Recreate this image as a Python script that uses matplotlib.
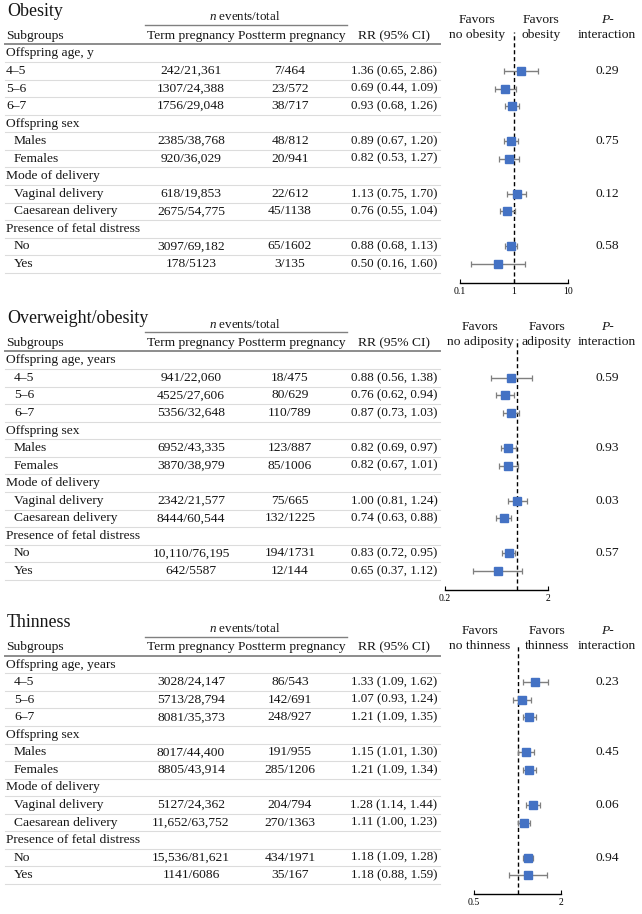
import matplotlib
matplotlib.use("Agg")
import matplotlib.pyplot as plt
from matplotlib.ticker import NullLocator

plt.rcParams['font.family'] = ['Liberation Serif', 'DejaVu Serif']
plt.rcParams['mathtext.fontset'] = 'custom'
plt.rcParams['mathtext.rm'] = 'Liberation Serif'
plt.rcParams['mathtext.it'] = 'Liberation Serif:italic'

# ---- data ----
titles = ["Obesity", "Overweight/obesity", "Thinness"]
age_headers = ["Offspring age, y", "Offspring age, years", "Offspring age, years"]
group_names = ["Offspring sex", "Mode of delivery", "Presence of fetal distress"]
item_labels = ["4\u20135", "5\u20136", "6\u20137", "Males", "Females",
               "Vaginal delivery", "Caesarean delivery", "No", "Yes"]
favors_left = ["no obesity", "no adiposity", "no thinness"]
favors_right = ["obesity", "adiposity", "thinness"]

obesity_term = ["242/21,361", "1307/24,388", "1756/29,048", "2385/38,768", "920/36,029",
                "618/19,853", "2675/54,775", "3097/69,182", "178/5123"]
obesity_post = ["7/464", "23/572", "38/717", "48/812", "20/941",
                "22/612", "45/1138", "65/1602", "3/135"]
obesity_rr = [1.36, 0.69, 0.93, 0.89, 0.82, 1.13, 0.76, 0.88, 0.50]
obesity_lo = [0.65, 0.44, 0.68, 0.67, 0.53, 0.75, 0.55, 0.68, 0.16]
obesity_hi = [2.86, 1.09, 1.26, 1.20, 1.27, 1.70, 1.04, 1.13, 1.60]
obesity_p = ["0.29", "0.75", "0.12", "0.58"]

overweight_term = ["941/22,060", "4525/27,606", "5356/32,648", "6952/43,335", "3870/38,979",
                   "2342/21,577", "8444/60,544", "10,110/76,195", "642/5587"]
overweight_post = ["18/475", "80/629", "110/789", "123/887", "85/1006",
                   "75/665", "132/1225", "194/1731", "12/144"]
overweight_rr = [0.88, 0.76, 0.87, 0.82, 0.82, 1.00, 0.74, 0.83, 0.65]
overweight_lo = [0.56, 0.62, 0.73, 0.69, 0.67, 0.81, 0.63, 0.72, 0.37]
overweight_hi = [1.38, 0.94, 1.03, 0.97, 1.01, 1.24, 0.88, 0.95, 1.12]
overweight_p = ["0.59", "0.93", "0.03", "0.57"]

thin_term = ["3028/24,147", "5713/28,794", "8081/35,373", "8017/44,400", "8805/43,914",
             "5127/24,362", "11,652/63,752", "15,536/81,621", "1141/6086"]
thin_post = ["86/543", "142/691", "248/927", "191/955", "285/1206",
             "204/794", "270/1363", "434/1971", "35/167"]
thin_rr = [1.33, 1.07, 1.21, 1.15, 1.21, 1.28, 1.11, 1.18, 1.18]
thin_lo = [1.09, 0.93, 1.09, 1.01, 1.09, 1.14, 1.00, 1.09, 0.88]
thin_hi = [1.62, 1.24, 1.35, 1.30, 1.34, 1.44, 1.23, 1.28, 1.59]
thin_p = ["0.23", "0.45", "0.06", "0.94"]

terms = [obesity_term, overweight_term, thin_term]
posts = [obesity_post, overweight_post, thin_post]
rrs = [obesity_rr, overweight_rr, thin_rr]
los = [obesity_lo, overweight_lo, thin_lo]
his = [obesity_hi, overweight_hi, thin_hi]
pvals = [obesity_p, overweight_p, thin_p]

xticks = [[0.1, 1, 10], [0.2, 2], [0.5, 2]]
xtick_labels = [["0.1", "1", "10"], ["0.2", "2"], ["0.5", "2"]]

# ---- layout (pixels) ----
W, H = 642, 914
row0 = [53.4, 360.4, 664.6]
pitch = 17.55
axis_gap = 19.0
forest_x = [(460, 567.7), (445, 548.3), (474, 561)]
fav_lx = [477, 480.5, 480]
fav_rx = [541, 547, 547]
p_x = 607
fs = 9.7      # labels
fs_rr = 9.4   # RR column is a touch smaller
tc = "#151515"
blue = "#4472C4"

fig = plt.figure(figsize=(W / 100, H / 100), dpi=100)
bg = fig.add_axes([0, 0, 1, 1])
bg.set_xlim(0, W)
bg.set_ylim(H, 0)
bg.axis("off")

# row index of each item / group header inside a panel
item_rows = [1, 2, 3, 5, 6, 8, 9, 11, 12]
group_rows = [0, 4, 7, 10]

for k in range(3):
    r0 = row0[k]
    ry = lambda i: r0 + i * pitch

    bg.text(7, r0 - 42, titles[k], fontsize=12.9, va="center", ha="left", color=tc)
    bg.text(245, r0 - 36.4, "$\\it{n}$ events/total", fontsize=9.4, va="center",
            ha="center", color=tc)
    bg.plot([145, 347], [r0 - 28, r0 - 28], color="#808080", lw=1)

    hy = r0 - 17.4
    bg.text(6, hy, "Subgroups", fontsize=fs, va="center", color=tc)
    bg.text(191, hy, "Term pregnancy", fontsize=fs, va="center", ha="center", color=tc)
    bg.text(292, hy, "Postterm pregnancy", fontsize=fs, va="center", ha="center", color=tc)
    bg.text(394, hy, "RR (95% CI)", fontsize=fs, va="center", ha="center", color=tc)
    bg.plot([5, 440], [r0 - 9, r0 - 9], color="#8c8c8c", lw=1.4)

    # favors / p headers
    bg.text(fav_lx[k], r0 - 33.5, "Favors", fontsize=fs, va="center", ha="center", color=tc)
    bg.text(fav_lx[k], r0 - 18.3, favors_left[k], fontsize=fs, va="center", ha="center", color=tc)
    bg.text(fav_rx[k], r0 - 33.5, "Favors", fontsize=fs, va="center", ha="center", color=tc)
    bg.text(fav_rx[k], r0 - 18.3, favors_right[k], fontsize=fs, va="center", ha="center", color=tc)
    bg.text(p_x, r0 - 33.5, "P-", fontsize=fs, va="center", ha="center",
            fontstyle="italic", color=tc)
    bg.text(p_x, r0 - 18.3, "interaction", fontsize=fs, va="center", ha="center", color=tc)

    # group headers
    heads = [age_headers[k]] + group_names
    for g, gr in enumerate(group_rows):
        bg.text(6, ry(gr), heads[g], fontsize=fs, va="center", color=tc)

    # items
    for j, ir in enumerate(item_rows):
        indent = 6 if (k == 0 and j < 3) else 14
        bg.text(indent, ry(ir), item_labels[j], fontsize=fs, va="center", color=tc)
        bg.text(191, ry(ir), terms[k][j], fontsize=fs, va="center", ha="center", color=tc)
        bg.text(290, ry(ir), posts[k][j], fontsize=fs, va="center", ha="center", color=tc)
        txt = "%.2f (%.2f, %.2f)" % (rrs[k][j], los[k][j], his[k][j])
        bg.text(394, ry(ir), txt, fontsize=fs_rr, va="center", ha="center", color=tc)

    for g in range(4):
        bg.text(p_x, ry(item_rows[[0, 3, 5, 7][g]]), pvals[k][g], fontsize=fs,
                va="center", ha="center", color=tc)

    # thin row separators
    for i in range(13):
        y = ry(i) + pitch / 2
        bg.plot([5, 440], [y, y], color="#dcdcdc", lw=0.8)

    # forest plot
    x0, x1 = forest_x[k]
    dash_top = r0 - 21
    axis_y = ry(12) + axis_gap
    ax = fig.add_axes([x0 / W, 1 - axis_y / H, (x1 - x0) / W, (axis_y - dash_top) / H])
    ax.set_xscale("log")
    ax.set_xlim(xticks[k][0], xticks[k][-1])
    ax.set_ylim(axis_y, dash_top)
    ax.patch.set_alpha(0)
    for s in ["top", "left", "right"]:
        ax.spines[s].set_visible(False)
    ax.spines["bottom"].set_linewidth(1)
    ax.set_yticks([])
    ax.set_xticks(xticks[k])
    ax.set_xticklabels(xtick_labels[k])
    ax.xaxis.set_minor_locator(NullLocator())
    ax.tick_params(axis="x", direction="in", length=3, width=0.8, labelsize=7, pad=3)
    ax.axvline(1, color="black", lw=1, ls=(0, (3, 2)))

    ys = [ry(i) for i in item_rows]
    rr = rrs[k]
    err = [[r - l for r, l in zip(rr, los[k])], [h - r for r, h in zip(rr, his[k])]]
    ax.errorbar(rr, ys, xerr=err, fmt="none", ecolor="#7f7f7f", elinewidth=1,
                capsize=2.3, capthick=0.9, clip_on=False)
    ax.plot(rr, ys, "s", color=blue, markersize=5.8, clip_on=False, zorder=3)

plt.savefig("out.png", dpi=100)
